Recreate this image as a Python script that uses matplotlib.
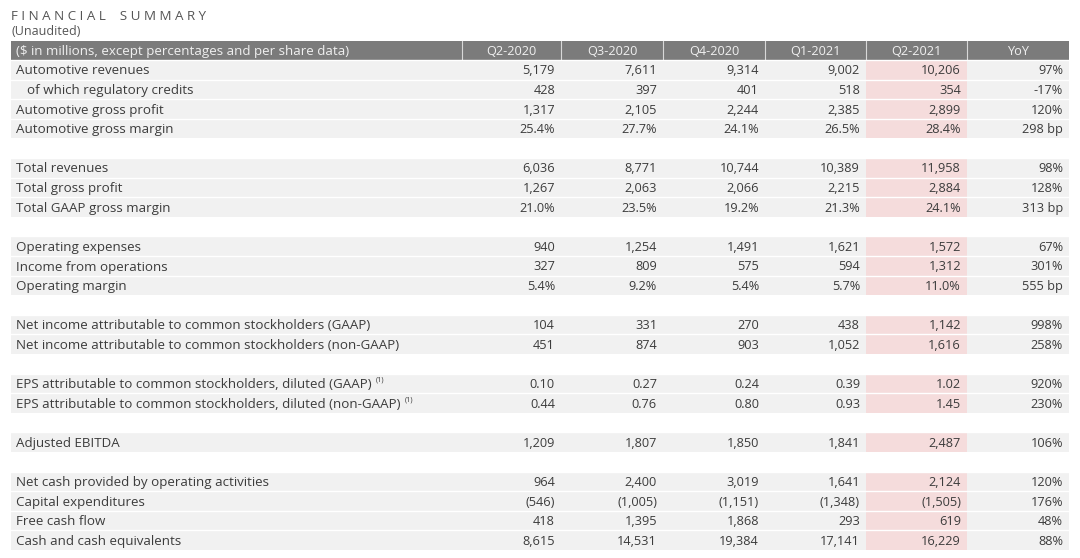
import matplotlib.pyplot as plt
from matplotlib.patches import Rectangle

plt.rcParams["font.family"] = ["Open Sans", "DejaVu Sans"]

# Table content
columns = ["Q2-2020", "Q3-2020", "Q4-2020", "Q1-2021", "Q2-2021", "YoY"]
labels = [
    "Automotive revenues",
    "of which regulatory credits",
    "Automotive gross profit",
    "Automotive gross margin",
    "Total revenues",
    "Total gross profit",
    "Total GAAP gross margin",
    "Operating expenses",
    "Income from operations",
    "Operating margin",
    "Net income attributable to common stockholders (GAAP)",
    "Net income attributable to common stockholders (non-GAAP)",
    "EPS attributable to common stockholders, diluted (GAAP)",
    "EPS attributable to common stockholders, diluted (non-GAAP)",
    "Adjusted EBITDA",
    "Net cash provided by operating activities",
    "Capital expenditures",
    "Free cash flow",
    "Cash and cash equivalents",
]
q2_2020 = ["5,179", "428", "1,317", "25.4%", "6,036", "1,267", "21.0%", "940", "327", "5.4%",
           "104", "451", "0.10", "0.44", "1,209", "964", "(546)", "418", "8,615"]
q3_2020 = ["7,611", "397", "2,105", "27.7%", "8,771", "2,063", "23.5%", "1,254", "809", "9.2%",
           "331", "874", "0.27", "0.76", "1,807", "2,400", "(1,005)", "1,395", "14,531"]
q4_2020 = ["9,314", "401", "2,244", "24.1%", "10,744", "2,066", "19.2%", "1,491", "575", "5.4%",
           "270", "903", "0.24", "0.80", "1,850", "3,019", "(1,151)", "1,868", "19,384"]
q1_2021 = ["9,002", "518", "2,385", "26.5%", "10,389", "2,215", "21.3%", "1,621", "594", "5.7%",
           "438", "1,052", "0.39", "0.93", "1,841", "1,641", "(1,348)", "293", "17,141"]
q2_2021 = ["10,206", "354", "2,899", "28.4%", "11,958", "2,884", "24.1%", "1,572", "1,312", "11.0%",
           "1,142", "1,616", "1.02", "1.45", "2,487", "2,124", "(1,505)", "619", "16,229"]
yoy = ["97%", "-17%", "120%", "298 bp", "98%", "128%", "313 bp", "67%", "301%", "555 bp",
       "998%", "258%", "920%", "230%", "106%", "120%", "176%", "48%", "88%"]
group_sizes = [4, 3, 3, 2, 2, 1, 4]
indented = {"of which regulatory credits"}
footnoted = {"EPS attributable to common stockholders, diluted (GAAP)",
             "EPS attributable to common stockholders, diluted (non-GAAP)"}

series = [q2_2020, q3_2020, q4_2020, q1_2021, q2_2021, yoy]

# Layout in pixel units
W, H = 1080, 558
col_edges = [11, 462, 561, 663, 765, 866, 967, 1069]
header_top, header_bot = 41, 60
row_h = 19.6
highlight_col = 4
dy = 1.2  # nudge text down to sit in the row centre

text_color = "#3c3c3c"
row_bg = "#f1f1f1"
pink = "#f5dcdc"
header_bg = "#7b7b7b"
label_fs = 9.6
num_fs = 9.2

fig = plt.figure(figsize=(W / 100, H / 100), dpi=100)
ax = fig.add_axes([0, 0, 1, 1])
ax.set_xlim(0, W)
ax.set_ylim(H, 0)
ax.axis("off")

# Title (letter-spaced)
ax.text(11, 17, " ".join("FINANCIAL") + "    " + " ".join("SUMMARY"),
        fontsize=9.6, color="#555555", va="center", ha="left")
ax.text(11, 31.5, "(Unaudited)", fontsize=9.0, color="#555555", va="center", ha="left")

# Header
ax.add_patch(Rectangle((col_edges[0], header_top), col_edges[-1] - col_edges[0],
                       header_bot - header_top, color=header_bg, lw=0))
hy = (header_top + header_bot) / 2 + dy
ax.text(16, hy, "($ in millions, except percentages and per share data)",
        fontsize=label_fs, color="#f0f0f0", va="center", ha="left")
for j, name in enumerate(columns):
    x0, x1 = col_edges[j + 1], col_edges[j + 2]
    ax.text((x0 + x1) / 2, hy, name, fontsize=num_fs, color="#f0f0f0", va="center", ha="center")
    ax.plot([x0, x0], [header_top, header_bot], color="#d8d8d8", lw=0.8)

# Body rows
slot = 0
i = 0
for g, size in enumerate(group_sizes):
    for _ in range(size):
        top = header_bot + slot * row_h
        yc = top + row_h / 2 + dy
        ax.add_patch(Rectangle((col_edges[0], top), col_edges[1] - col_edges[0],
                               row_h, color=row_bg, lw=0))
        for j in range(len(series)):
            x0, x1 = col_edges[j + 1], col_edges[j + 2]
            fc = pink if j == highlight_col else row_bg
            ax.add_patch(Rectangle((x0, top), x1 - x0, row_h, color=fc, lw=0))
            ax.text(x1 - 6, yc, series[j][i], fontsize=num_fs, color=text_color,
                    va="center", ha="right")
        # white separator line between rows
        ax.plot([col_edges[0], col_edges[-1]], [top, top], color="white", lw=1.0)
        lx = 27 if labels[i] in indented else 16
        t = ax.text(lx, yc, labels[i], fontsize=label_fs, color=text_color, va="center", ha="left")
        if labels[i] in footnoted:
            fig.canvas.draw()
            bb = t.get_window_extent()
            ax.text(bb.x1 + 4, yc - 4.5, "(1)", fontsize=5.4, color=text_color,
                    va="center", ha="left")
        slot += 1
        i += 1
    slot += 1

fig.savefig("out.png", dpi=100)
